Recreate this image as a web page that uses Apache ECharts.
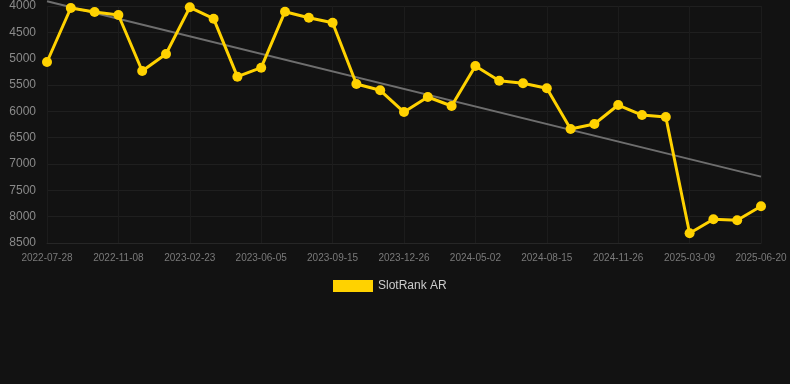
<!DOCTYPE html>
<html>
<head>
<meta charset="utf-8">
<script src="https://cdn.jsdelivr.net/npm/echarts@6/dist/echarts.min.js"></script>
<style>
html,body{margin:0;padding:0;background:#121212;}
#chart{width:790px;height:384px;}
</style>
</head>
<body>
<div id="chart"></div>
<script>
const categories = [
  '2022-07-28','2022-08-31','2022-10-05','2022-11-08','2022-12-14','2023-01-19',
  '2023-02-23','2023-03-29','2023-05-02','2023-06-05','2023-07-09','2023-08-12',
  '2023-09-15','2023-10-19','2023-11-22','2023-12-26','2024-02-07','2024-03-20',
  '2024-05-02','2024-06-05','2024-07-10','2024-08-15','2024-09-18','2024-10-22',
  '2024-11-26','2024-12-30','2025-02-03','2025-03-09','2025-04-12','2025-05-16',
  '2025-06-20'
];
const rankValues = [
  5063, 4038, 4114, 4171, 5234, 4911,
  4025, 4241, 5342, 5171, 4108, 4222,
  4317, 5481, 5601, 6013, 5728, 5899,
  5139, 5418, 5468, 5563, 6335, 6240,
  5880, 6070, 6108, 8316, 8050, 8069,
  7803
];
const trendStart = 3910;
const trendEnd = 7240;
const yTicks = { min: 4000, max: 8500, interval: 500 };

const chart = echarts.init(document.getElementById('chart'));
chart.setOption({
  backgroundColor: '#121212',
  animation: false,
  grid: { left: 47, right: 29, top: 6, bottom: 141, containLabel: false },
  legend: {
    data: ['SlotRank AR'],
    top: 275,
    left: 328,
    itemWidth: 40,
    itemHeight: 12,
    itemGap: 6,
    textStyle: { color: '#cccccc', fontSize: 12, fontFamily: 'Liberation Sans, Arial, sans-serif' },
    icon: 'rect'
  },
  xAxis: {
    type: 'category',
    data: categories,
    boundaryGap: false,
    axisLine: { show: true, lineStyle: { color: '#262626' } },
    axisTick: { show: false },
    axisLabel: {
      interval: 2,
      color: '#7a7a7a',
      fontSize: 10,
      margin: 10,
      fontFamily: 'Liberation Sans, Arial, sans-serif'
    },
    splitLine: { show: true, interval: 2, lineStyle: { color: '#1c1c1c' } }
  },
  yAxis: {
    type: 'value',
    inverse: true,
    min: yTicks.min,
    max: yTicks.max,
    interval: yTicks.interval,
    axisLine: { show: false },
    axisTick: { show: false },
    axisLabel: {
      color: '#8a8a8a',
      fontSize: 12,
      margin: 11,
      formatter: function (v) { return String(v); },
      fontFamily: 'Liberation Sans, Arial, sans-serif'
    },
    splitLine: { show: true, lineStyle: { color: '#1f1f1f' } }
  },
  series: [
    {
      name: 'Trend',
      type: 'line',
      clip: false,
      data: [[categories[0], trendStart], [categories[categories.length - 1], trendEnd]],
      symbol: 'none',
      lineStyle: { color: '#6e6e6e', width: 2 },
      z: 1,
      silent: true
    },
    {
      name: 'SlotRank AR',
      type: 'line',
      data: rankValues,
      symbol: 'circle',
      symbolSize: 10,
      itemStyle: { color: '#ffd200' },
      lineStyle: { color: '#ffd200', width: 3 },
      z: 2
    }
  ]
});
</script>
</body>
</html>
